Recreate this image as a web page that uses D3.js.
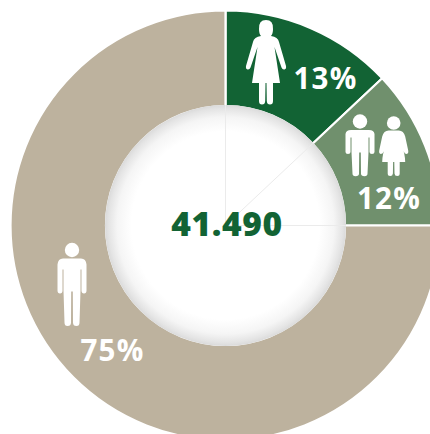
<!DOCTYPE html>
<html>
<head>
<meta charset="utf-8">
<script src="https://cdn.jsdelivr.net/npm/d3@7"></script>
<style>
html,body{margin:0;padding:0;background:#fff;overflow:hidden}
svg{display:block}
text{font-family:"Open Sans",sans-serif;font-weight:700}
</style>
</head>
<body>
<div id="chart"></div>
<script>
// Share of each group, clockwise from twelve o'clock
const groups = ["Frauen", "Frauen und Männer", "Männer"];
const shares = [13, 12, 75];
const sliceColors = ["#126334", "#70906d", "#bdb29e"];
const totalCount = 41490;

const width = 430, height = 434;
const cx = 225.5, cy = 225.5, outerR = 215, innerR = 120.5;

const svg = d3.select("#chart").append("svg")
  .attr("width", width).attr("height", height);

// Hole shading: white centre fading to soft grey at the rim
const defs = svg.append("defs");
const grad = defs.append("radialGradient").attr("id", "hole");
[[0, "#ffffff"], [0.78, "#ffffff"], [0.9, "#f5f5f5"], [0.97, "#e4e4e4"], [1, "#dadada"]].forEach(([o, c]) =>
  grad.append("stop").attr("offset", o).attr("stop-color", c));

const pie = d3.pie().sort(null).value(d => d)(shares);
const arc = d3.arc().innerRadius(innerR - 1).outerRadius(outerR);
const g = svg.append("g").attr("transform", `translate(${cx},${cy})`);

g.selectAll("path.slice").data(pie).join("path")
  .attr("class", "slice")
  .attr("d", arc)
  .attr("fill", (d, i) => sliceColors[i])
  .attr("stroke", "#fff")
  .attr("stroke-width", 2.2);

g.append("circle").attr("r", innerR).attr("fill", "url(#hole)");

// Faint continuation of the slice borders inside the hole
const spoke = d3.lineRadial();
g.selectAll("path.spoke").data(pie).join("path")
  .attr("class", "spoke")
  .attr("d", d => spoke([[d.startAngle, 0], [d.startAngle, innerR]]))
  .attr("fill", "none")
  .attr("stroke", "#ebebeb")
  .attr("stroke-width", 1);

const fmt = d3.formatLocale({ decimal: ",", thousands: ".", grouping: [3], currency: ["", "€"] }).format(",");
svg.append("text")
  .attr("x", 227).attr("y", 236)
  .attr("text-anchor", "middle")
  .attr("font-size", 33.5)
  .attr("letter-spacing", 0.6)
  .style("font-weight", 800)
  .attr("fill", "#126334")
  .text(fmt(totalCount));

const labelSpots = [[325.5, 88.5], [389, 208.5], [112.5, 361]];
svg.selectAll("text.share").data(shares).join("text")
  .attr("class", "share")
  .attr("x", (d, i) => labelSpots[i][0])
  .attr("y", (d, i) => labelSpots[i][1])
  .attr("text-anchor", "middle")
  .attr("font-size", 29.5)
  .attr("letter-spacing", 1.2)
  .attr("fill", "#fff")
  .text(d => d + "%");

// Pictograms, drawn around a local origin at the top of the torso
const manBody = "M-9,0 L9,0 Q14,0 14.5,6 L14.5,32 Q14.5,35 12,35 Q9.5,35 9.5,32 L9.5,11 L8.5,11 L8.5,32 L7.5,64 Q7.5,67.5 4.5,67.5 Q1,67.5 1,64 L0.8,33 L-0.8,33 L-1,64 Q-1,67.5 -4.5,67.5 Q-7.5,67.5 -7.5,64 L-8.5,32 L-8.5,11 L-9.5,11 L-9.5,32 Q-9.5,35 -12,35 Q-14.5,35 -14.5,32 L-14.5,6 Q-14,0 -9,0 Z";

const womanBody = "M-7,-8 Q-7.5,-17 0,-17 Q7.5,-17 7,-8 Q7,-3 5,-1 Q12,0 13,5 L20,29 Q20.5,32 18.5,32.5 Q16.5,33 15.5,30.5 L8.5,10 L14,46 L7,46 L7,64 Q7,67.5 4,67.5 Q1,67.5 0.8,64 L0.5,46 L-0.5,46 L-0.8,64 Q-1,67.5 -4,67.5 Q-7,67.5 -7,64 L-7,46 L-14,46 L-8.5,10 L-15.5,30.5 Q-16.5,33 -18.5,32.5 Q-20.5,32 -20,29 L-13,5 Q-12,0 -5,-1 Q-7,-3 -7,-8 Z";

const wideWoman = "M-5,0 Q-10,0 -11.5,6 L-14.5,20 Q-15,23 -13,23.5 Q-11,23.5 -10,21 L-7.5,13 Q-11.5,24 -11.5,31.5 L-6,31.5 L-6,43 Q-6,45.5 -3.5,45.5 Q-1,45.5 -0.8,43 L-0.6,31.5 L0.6,31.5 L0.8,43 Q1,45.5 3.5,45.5 Q6,45.5 6,43 L6,31.5 L11.5,31.5 Q11.5,24 7.5,13 L10,21 Q11,23.5 13,23.5 Q15,23 14.5,20 L11.5,6 Q10,0 5,0 Z";

const pictos = [
  { d: manBody, x: 72, y: 258.5, sx: 1, sy: 1, head: [72, 250, 7.2] },
  { d: manBody, x: 360, y: 130, sx: 1, sy: 0.685, head: [360, 121.5, 7.2] },
  { d: wideWoman, x: 393.7, y: 130.5, sx: 1, sy: 1, head: [393.7, 123, 6.8] },
  { d: womanBody, x: 266, y: 37, sx: 1, sy: 1, head: null }
];

const pg = svg.append("g").attr("fill", "#fff");
pictos.forEach(p => {
  pg.append("path").attr("d", p.d)
    .attr("transform", `translate(${p.x},${p.y}) scale(${p.sx},${p.sy})`);
  if (p.head) pg.append("circle").attr("cx", p.head[0]).attr("cy", p.head[1]).attr("r", p.head[2]);
});
</script>
</body>
</html>
